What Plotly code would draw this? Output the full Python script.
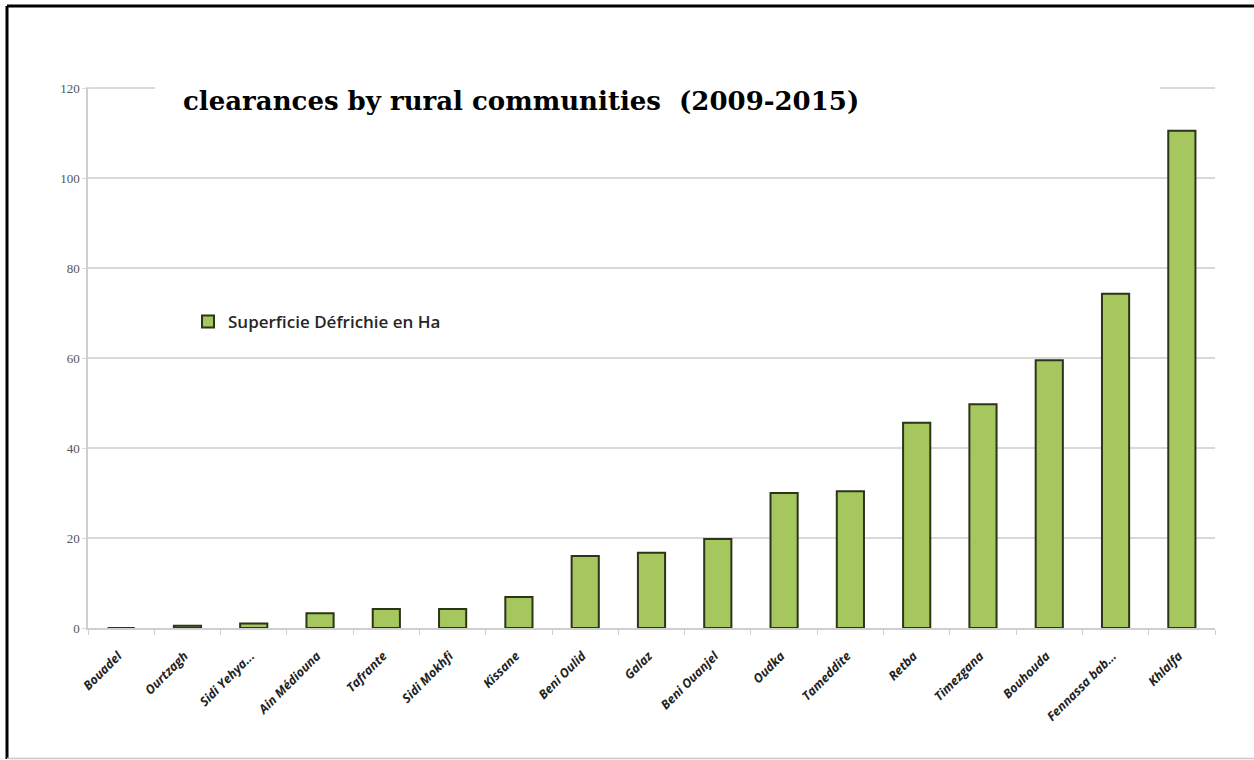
import plotly.graph_objects as go

# Rural communities and cleared area (ha), 2009-2015
communes = [
    "Bouadel", "Ourtzagh", "Sidi Yehya...", "Ain Médiouna", "Tafrante",
    "Sidi Mokhfi", "Kissane", "Beni Oulid", "Galaz", "Beni Ouanjel",
    "Oudka", "Tameddite", "Retba", "Timezgana", "Bouhouda",
    "Fennassa bab...", "Khlalfa",
]
superficie_ha = [
    0, 0.5, 1.0, 3.3, 4.2,
    4.2, 6.9, 16.0, 16.7, 19.8,
    30.0, 30.4, 45.6, 49.7, 59.5,
    74.3, 110.5,
]
y_ticks = [0, 20, 40, 60, 80, 100, 120]

W, H = 1254, 760
L, R, T, B = 88, 39, 84, 132
pw, ph = W - L - R, H - T - B
# a little headroom above 120 so the top gridline is drawn
y_top = 120 * ph / (H - B - 88)


def px_x(x):
    return (x - L) / pw


def px_y(y):
    return (H - B - y) / ph


fig = go.Figure()
fig.add_trace(go.Bar(
    x=communes,
    y=superficie_ha,
    name="Superficie Défrichie en Ha",
    marker=dict(color="#a6c65e", line=dict(color="#2b3519", width=2)),
    showlegend=True,
))

shapes = [
    # white band behind the title, hiding the top gridline and axis stub
    dict(type="rect", xref="paper", yref="paper", layer="above",
         x0=px_x(155), x1=px_x(1160), y0=px_y(80), y1=px_y(96),
         fillcolor="white", line=dict(width=0)),
    dict(type="rect", xref="paper", yref="paper", layer="above",
         x0=px_x(80), x1=px_x(95), y0=px_y(82), y1=px_y(87.2),
         fillcolor="white", line=dict(width=0)),
    # outer frame
    dict(type="line", xref="paper", yref="paper",
         x0=px_x(7), x1=px_x(1254), y0=px_y(6), y1=px_y(6),
         line=dict(color="black", width=3)),
    dict(type="line", xref="paper", yref="paper",
         x0=px_x(7), x1=px_x(7), y0=px_y(6), y1=px_y(759),
         line=dict(color="black", width=3)),
    dict(type="line", xref="paper", yref="paper",
         x0=px_x(7), x1=px_x(1254), y0=px_y(758.5), y1=px_y(758.5),
         line=dict(color="#c8c8c8", width=1.5)),
]

fig.update_layout(
    width=W, height=H,
    margin=dict(l=L, r=R, t=T, b=B, autoexpand=False),
    paper_bgcolor="white",
    plot_bgcolor="white",
    bargap=0.59,
    shapes=shapes,
    annotations=[dict(
        text="clearances by rural communities  (2009-2015)",
        xref="paper", yref="paper",
        x=px_x(521), y=px_y(101), xanchor="center", yanchor="middle",
        showarrow=False,
        font=dict(family="DejaVu Serif", size=26, color="black", weight="bold"),
    )],
    legend=dict(
        x=px_x(188), y=px_y(322), xanchor="left", yanchor="middle",
        bgcolor="rgba(0,0,0,0)",
        font=dict(family="Open Sans", size=17, color="#262626", weight=600),
        itemwidth=30,
    ),
    xaxis=dict(
        type="category",
        showgrid=False,
        showline=True, linecolor="#cfcfcf", linewidth=1.5,
        ticks="outside", tickson="boundaries", ticklen=5,
        tickcolor="#cfcfcf", tickwidth=1.2,
        tickangle=-45,
        ticklabelstandoff=14,
        ticklabelshift=-3,
        tickfont=dict(family="Open Sans", size=12.5, color="#222222",
                      weight="bold", style="italic"),
    ),
    yaxis=dict(
        range=[0, y_top],
        tickvals=y_ticks,
        showgrid=True, gridcolor="#d9d9d9", gridwidth=1.8,
        showline=True, linecolor="#cfcfcf", linewidth=1.5,
        ticks="outside", ticklen=4, tickcolor="#d9d9d9",
        zeroline=False,
        tickfont=dict(family="Liberation Serif", size=13, color="#555555"),
    ),
)

fig.write_html("out.html")
